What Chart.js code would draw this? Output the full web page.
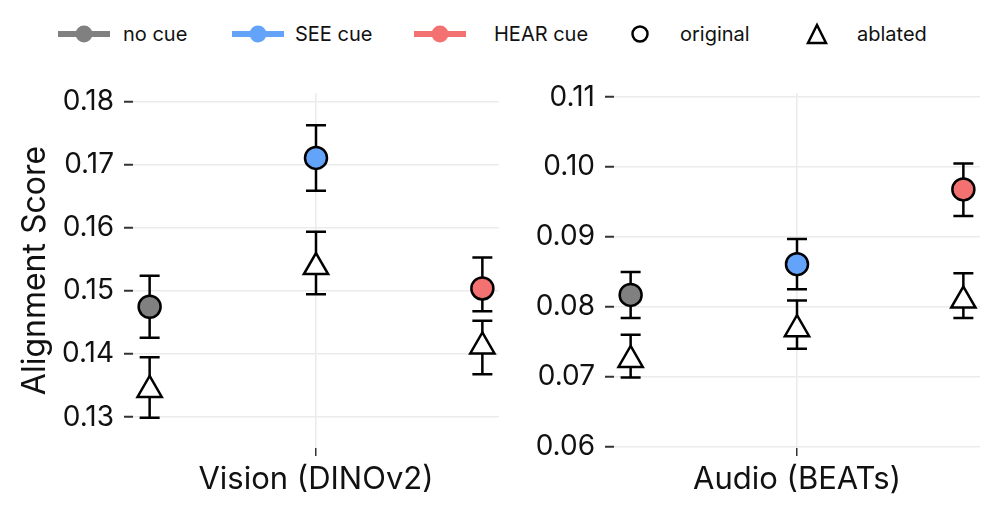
<!DOCTYPE html>
<html>
<head>
<meta charset="utf-8">
<script src="https://cdn.jsdelivr.net/npm/chart.js@4.4.1/dist/chart.umd.min.js"></script>
<style>
  html, body { margin: 0; padding: 0; background: #fff; }
  body { width: 997px; height: 515px; position: relative; overflow: hidden; font-family: Inter, "Noto Sans", sans-serif; }
  #legend { position: absolute; left: 0; top: 0; }
  .panel { position: absolute; top: 60px; height: 455px; }
  #vision-wrap { left: 0; width: 505px; }
  #audio-wrap { left: 500px; width: 497px; }
</style>
</head>
<body>
<svg id="legend" width="997" height="60" font-family="Inter, 'Noto Sans', sans-serif" font-size="20" fill="#111">
  <line x1="58" y1="34" x2="110" y2="34" stroke="#808080" stroke-width="6"/>
  <circle cx="84" cy="34" r="8.5" fill="#808080"/>
  <text x="123" y="41">no cue</text>
  <line x1="232" y1="34" x2="284" y2="34" stroke="#63a4fa" stroke-width="6"/>
  <circle cx="258" cy="34" r="8.5" fill="#63a4fa"/>
  <text x="295" y="41">SEE cue</text>
  <line x1="414" y1="34" x2="466" y2="34" stroke="#f47171" stroke-width="6"/>
  <circle cx="440" cy="34" r="8.5" fill="#f47171"/>
  <text x="494" y="41">HEAR cue</text>
  <circle cx="640" cy="34" r="7.5" fill="none" stroke="#000" stroke-width="2.5"/>
  <text x="680" y="41">original</text>
  <polygon points="817,25 826,43 808,43" fill="none" stroke="#000" stroke-width="2.5" stroke-linejoin="miter"/>
  <text x="857" y="41">ablated</text>
</svg>
<div class="panel" id="vision-wrap"><canvas id="vision-chart"></canvas></div>
<div class="panel" id="audio-wrap"><canvas id="audio-chart"></canvas></div>
<script>
const cues = ['no cue', 'SEE cue', 'HEAR cue'];
const cueColors = ['#808080', '#63a4fa', '#f47171'];

const visionOriginal = [0.1475, 0.1711, 0.1504];
const visionOriginalLow = [0.1426, 0.1659, 0.1468];
const visionOriginalHigh = [0.1524, 0.1763, 0.1553];
const visionAblated = [0.1343, 0.1538, 0.1412];
const visionAblatedLow = [0.1299, 0.1495, 0.1368];
const visionAblatedHigh = [0.1395, 0.1594, 0.1453];
const visionTicks = [0.13, 0.14, 0.15, 0.16, 0.17, 0.18];

const audioOriginal = [0.0817, 0.0861, 0.0968];
const audioOriginalLow = [0.0784, 0.0825, 0.0930];
const audioOriginalHigh = [0.0850, 0.0897, 0.1005];
const audioAblated = [0.0724, 0.0768, 0.0809];
const audioAblatedLow = [0.0699, 0.0740, 0.0784];
const audioAblatedHigh = [0.0760, 0.0809, 0.0848];
const audioTicks = [0.06, 0.07, 0.08, 0.09, 0.10, 0.11];

const FONT = 'Inter, "Noto Sans", sans-serif';

// draws error bars before the points so markers sit on top
const errorBarPlugin = {
    id: 'errorBars',
    beforeDatasetsDraw(chart) {
        const ctx = chart.ctx;
        const xScale = chart.scales.x;
        const yScale = chart.scales.y;
        ctx.save();
        ctx.strokeStyle = '#000';
        ctx.lineWidth = 2.5;
        chart.data.datasets.forEach(ds => {
            ds.data.forEach((pt, i) => {
                const x = xScale.getPixelForValue(pt.x);
                const yLo = yScale.getPixelForValue(ds.errLow[i]);
                const yHi = yScale.getPixelForValue(ds.errHigh[i]);
                ctx.beginPath();
                ctx.moveTo(x, yLo);
                ctx.lineTo(x, yHi);
                ctx.moveTo(x - 10, yLo);
                ctx.lineTo(x + 10, yLo);
                ctx.moveTo(x - 10, yHi);
                ctx.lineTo(x + 10, yHi);
                ctx.stroke();
            });
        });
        ctx.restore();
    }
};

function toPoints(values) {
    return values.map((v, i) => ({ x: i - 1, y: v }));
}

function renderPanel(canvasId, panelName, original, origLow, origHigh, ablated, ablLow, ablHigh, ticks, yMin, yMax, showTitle) {
    const ctx = document.getElementById(canvasId).getContext('2d');
    new Chart(ctx, {
        type: 'scatter',
        data: {
            datasets: [{
                label: 'original',
                data: toPoints(original),
                errLow: origLow,
                errHigh: origHigh,
                pointStyle: 'circle',
                pointRadius: 11,
                pointBackgroundColor: cueColors,
                pointBorderColor: '#000',
                pointBorderWidth: 2.5
            }, {
                label: 'ablated',
                data: toPoints(ablated),
                errLow: ablLow,
                errHigh: ablHigh,
                pointStyle: 'triangle',
                pointRadius: 14,
                pointBackgroundColor: '#fff',
                pointBorderColor: '#000',
                pointBorderWidth: 2.5
            }]
        },
        options: {
            responsive: true,
            maintainAspectRatio: false,
            animation: false,
            events: [],
            layout: { autoPadding: false, padding: { top: 33, right: showTitle ? 6 : 17, left: 0, bottom: 0 } },
            plugins: {
                legend: { display: false },
                tooltip: { enabled: false }
            },
            scales: {
                x: {
                    type: 'linear',
                    min: -1.1,
                    max: 1.1,
                    afterBuildTicks: axis => { axis.ticks = [{ value: 0 }]; },
                    afterFit: axis => { axis.height = 67; },
                    border: { display: false },
                    grid: { color: '#ebebeb', lineWidth: 1.5, tickColor: '#333', tickWidth: 1.5, tickLength: 8 },
                    ticks: {
                        callback: () => panelName,
                        color: '#111',
                        padding: 5,
                        font: { family: FONT, size: 31 }
                    }
                },
                y: {
                    type: 'linear',
                    min: yMin,
                    max: yMax,
                    afterBuildTicks: axis => { axis.ticks = ticks.map(v => ({ value: v })); },
                    afterFit: axis => { axis.width = showTitle ? 133 : 114; },
                    border: { display: false },
                    grid: { color: '#ebebeb', lineWidth: 1.5, tickColor: '#333', tickWidth: 2, tickLength: 9 },
                    ticks: {
                        callback: v => v.toFixed(2),
                        color: '#111',
                        padding: 10,
                        font: { family: FONT, size: 28 }
                    },
                    title: {
                        display: showTitle,
                        text: 'Alignment Score',
                        color: '#111',
                        padding: { top: 16, bottom: 0 },
                        font: { family: FONT, size: 32 }
                    }
                }
            }
        },
        plugins: [errorBarPlugin]
    });
}

renderPanel('vision-chart', 'Vision (DINOv2)', visionOriginal, visionOriginalLow, visionOriginalHigh,
    visionAblated, visionAblatedLow, visionAblatedHigh, visionTicks, 0.1251, 0.1814, true);
renderPanel('audio-chart', 'Audio (BEATs)', audioOriginal, audioOriginalLow, audioOriginalHigh,
    audioAblated, audioAblatedLow, audioAblatedHigh, audioTicks, 0.0598, 0.1106, false);
</script>
</body>
</html>
